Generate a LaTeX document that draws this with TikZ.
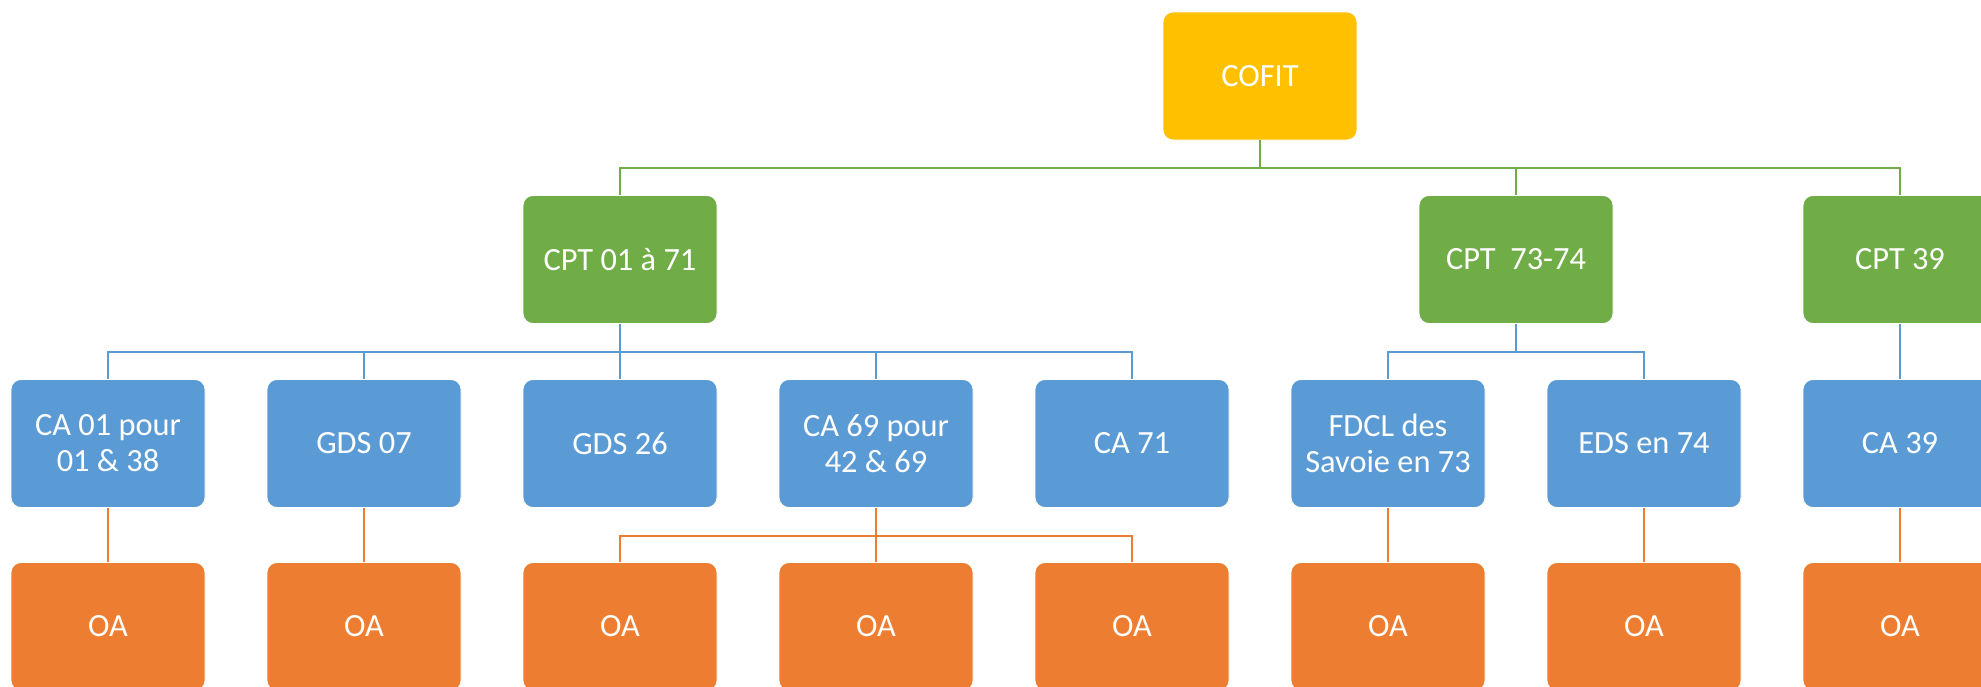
\documentclass[tikz,border=0pt]{standalone}
\usepackage{fontspec}
\setmainfont{Carlito}
\usepackage{tikz}
\usetikzlibrary{positioning, shapes}
\usepackage{xcolor}

\definecolor{cofitgold}{HTML}{FFC000}
\definecolor{cptgreen}{HTML}{70AD47}
\definecolor{cablue}{HTML}{5B9BD5}
\definecolor{oaorange}{HTML}{ED7D31}

\tikzset{
    orgbox/.style={rectangle, rounded corners=5pt, draw=white, line width=0.4pt,
        minimum width=97pt, minimum height=64pt, inner sep=2pt, align=center,
        text=white, font=\fontsize{16.2}{18}\selectfont},
    topbox/.style={orgbox, fill=cofitgold},
    cptbox/.style={orgbox, fill=cptgreen},
    cabox/.style={orgbox, fill=cablue},
    oabox/.style={orgbox, fill=oaorange},
    gline/.style={draw=cptgreen, line width=1.1pt},
    bline/.style={draw=cablue, line width=1.1pt},
    oline/.style={draw=oaorange, line width=1.1pt}
}

\begin{document}
\begin{tikzpicture}[x=0.5pt, y=-0.5pt]
        \useasboundingbox (0,0) rectangle (1981,686); % frame of the picture

        % Top of the chart
        \node[topbox] (cofit) at (1260,76) {COFIT};

        % CPT row
        \node[cptbox] (cpta) at (620,259.5) {CPT 01 à 71};
        \node[cptbox] (cptb) at (1516,259.5) {CPT~~73-74};
        \node[cptbox] (cptc) at (1900,259.5) {CPT 39};

        % CA / GDS row
        \node[cabox] (caa) at (108,443.5) {CA 01 pour\\01 \& 38};
        \node[cabox] (gdsa) at (364,443.5) {GDS 07};
        \node[cabox] (gdsb) at (620,443.5) {GDS 26};
        \node[cabox] (cab) at (876,443.5) {CA 69 pour\\42 \& 69};
        \node[cabox] (cac) at (1132,443.5) {CA 71};
        \node[cabox] (fdcl) at (1388,443.5) {FDCL des\\Savoie en 73};
        \node[cabox] (eds) at (1644,443.5) {EDS en 74};
        \node[cabox] (cad) at (1900,443.5) {CA 39};

        % OA row
        \node[oabox] (oaa) at (108,626.5) {OA};
        \node[oabox] (oab) at (364,626.5) {OA};
        \node[oabox] (oac) at (620,626.5) {OA};
        \node[oabox] (oad) at (876,626.5) {OA};
        \node[oabox] (oae) at (1132,626.5) {OA};
        \node[oabox] (oaf) at (1388,626.5) {OA};
        \node[oabox] (oag) at (1644,626.5) {OA};
        \node[oabox] (oah) at (1900,626.5) {OA};

        % Heights of the horizontal bars
        \coordinate (gbus) at (0,168); % green bar
        \coordinate (bbus) at (0,352); % blue bar
        \coordinate (obus) at (0,536); % orange bar

        % COFIT to the CPT boxes
        \draw[gline] (cofit.south) -- (cofit.south |- gbus) -| (cpta.north);
        \draw[gline] (cofit.south) -- (cofit.south |- gbus) -| (cptb.north);
        \draw[gline] (cofit.south) -- (cofit.south |- gbus) -| (cptc.north);

        % CPT 01 a 71 to its members
        \draw[bline] (cpta.south) -- (cpta.south |- bbus) -| (caa.north);
        \draw[bline] (cpta.south) -- (cpta.south |- bbus) -| (gdsa.north);
        \draw[bline] (cpta.south) -- (gdsb.north);
        \draw[bline] (cpta.south) -- (cpta.south |- bbus) -| (cab.north);
        \draw[bline] (cpta.south) -- (cpta.south |- bbus) -| (cac.north);

        % CPT 73-74 and CPT 39
        \draw[bline] (cptb.south) -- (cptb.south |- bbus) -| (fdcl.north);
        \draw[bline] (cptb.south) -- (cptb.south |- bbus) -| (eds.north);
        \draw[bline] (cptc.south) -- (cad.north);

        % Down to the OA boxes
        \draw[oline] (caa.south) -- (oaa.north);
        \draw[oline] (gdsa.south) -- (oab.north);
        \draw[oline] (cab.south) -- (cab.south |- obus) -| (oac.north);
        \draw[oline] (cab.south) -- (oad.north);
        \draw[oline] (cab.south) -- (cab.south |- obus) -| (oae.north);
        \draw[oline] (fdcl.south) -- (oaf.north);
        \draw[oline] (eds.south) -- (oag.north);
        \draw[oline] (cad.south) -- (oah.north);
    \end{tikzpicture}
\end{document}
